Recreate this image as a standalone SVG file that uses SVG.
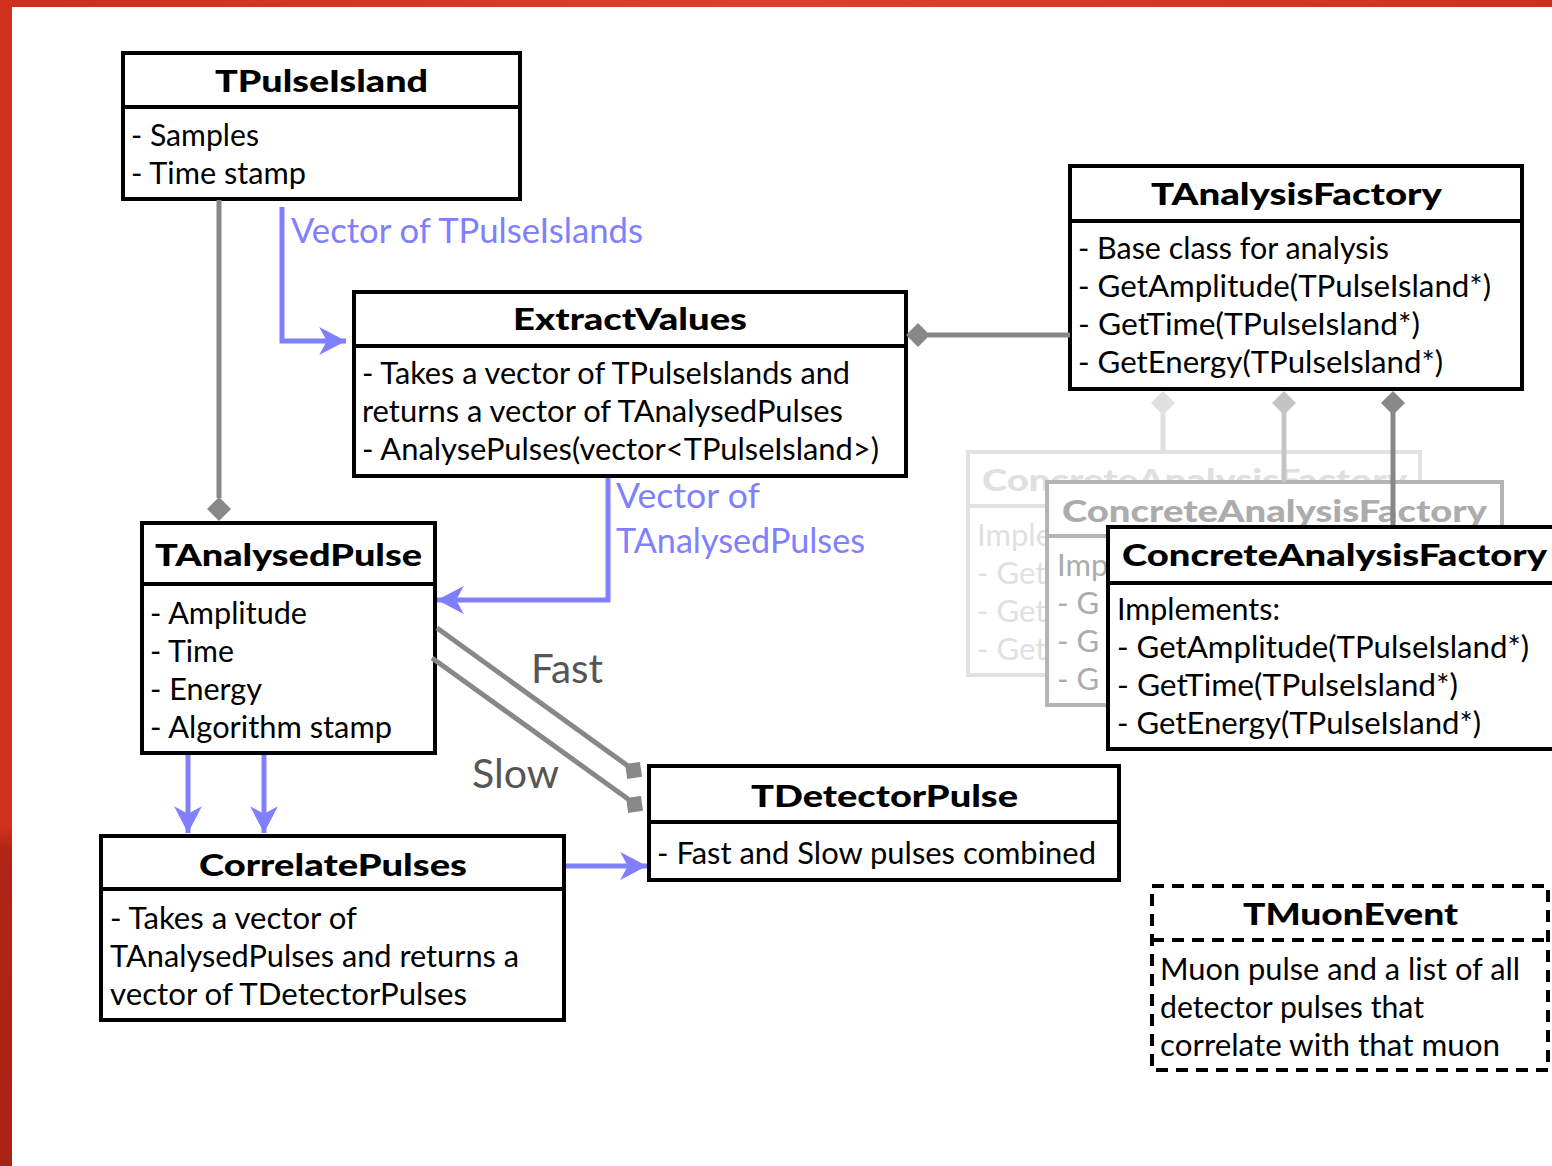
<svg xmlns="http://www.w3.org/2000/svg" width="1552" height="1166" viewBox="0 0 1552 1166">
<defs>
<linearGradient id="topband" x1="0" y1="0" x2="1" y2="0">
<stop offset="0" stop-color="#cf2d1b"/><stop offset="0.5" stop-color="#e0402a"/><stop offset="1" stop-color="#d02f1a"/>
</linearGradient>
<linearGradient id="leftband" x1="0" y1="0" x2="0" y2="1">
<stop offset="0" stop-color="#d2301c"/><stop offset="0.71" stop-color="#d0301c"/><stop offset="0.73" stop-color="#b12416"/><stop offset="1" stop-color="#aa2214"/>
</linearGradient>
<marker id="arr" markerUnits="userSpaceOnUse" markerWidth="30" markerHeight="30" viewBox="-26 -14 28 28" refX="0" refY="0" orient="auto">
<path d="M0,0 L-25,-13 L-18,0 L-25,13 Z" fill="#8080ff"/>
</marker>
<style>
.box{fill:#fff;stroke:#000;stroke-width:4}
.sep{stroke:#000;stroke-width:4}
.t{font-family:Lato,"Open Sans",sans-serif;font-size:31px;font-weight:900;fill:#000}
.b{font-family:Lato,"Open Sans",sans-serif;font-size:31px;fill:#000}
.blue{fill:none;stroke:#8080ff;stroke-width:5}
.bl{font-family:Lato,"Open Sans",sans-serif;font-size:34px;fill:#8080ff}
.gray{fill:none;stroke:#888;stroke-width:5}
.gl{font-family:Lato,"Open Sans",sans-serif;font-size:40px;fill:#555}
.c1{fill:#fff;stroke:#e2e2e2;stroke-width:4}
.c1t{fill:#e0e0e0}
.c2{fill:#fff;stroke:#b4b4b4;stroke-width:4}
.c2t{fill:#acacac}
.dash{fill:#fff;stroke:#000;stroke-width:4;stroke-dasharray:12 8}
</style>
</defs>
<rect x="0" y="0" width="1552" height="1166" fill="#fff"/>
<rect x="0" y="0" width="1552" height="7" fill="url(#topband)"/>
<rect x="0" y="0" width="12" height="1166" fill="url(#leftband)"/>

<g id="TPulseIsland">
<rect class="box" x="123" y="53" width="397" height="146"/>
<line class="sep" x1="123" y1="107" x2="520" y2="107"/>
<text class="t" x="215" y="92" textLength="213" lengthAdjust="spacingAndGlyphs">TPulseIsland</text>
<text class="b" x="131" y="146" textLength="128" lengthAdjust="spacingAndGlyphs">- Samples</text>
<text class="b" x="131" y="184" textLength="175" lengthAdjust="spacingAndGlyphs">- Time stamp</text>
</g>

<g id="TAnalysisFactory">
<rect class="box" x="1070" y="166" width="452" height="223"/>
<line class="sep" x1="1070" y1="221" x2="1522" y2="221"/>
<text class="t" x="1151" y="205" textLength="291" lengthAdjust="spacingAndGlyphs">TAnalysisFactory</text>
<text class="b" x="1078" y="259" textLength="311" lengthAdjust="spacingAndGlyphs">- Base class for analysis</text>
<text class="b" x="1078" y="297" textLength="413" lengthAdjust="spacingAndGlyphs">- GetAmplitude(TPulseIsland*)</text>
<text class="b" x="1078" y="335" textLength="342" lengthAdjust="spacingAndGlyphs">- GetTime(TPulseIsland*)</text>
<text class="b" x="1078" y="373" textLength="365" lengthAdjust="spacingAndGlyphs">- GetEnergy(TPulseIsland*)</text>
</g>

<g id="ExtractValues">
<rect class="box" x="354" y="292" width="552" height="184"/>
<line class="sep" x1="354" y1="346" x2="906" y2="346"/>
<text class="t" x="513" y="330" textLength="234" lengthAdjust="spacingAndGlyphs">ExtractValues</text>
<text class="b" x="362" y="384" textLength="488" lengthAdjust="spacingAndGlyphs">- Takes a vector of TPulseIslands and</text>
<text class="b" x="362" y="422" textLength="481" lengthAdjust="spacingAndGlyphs">returns a vector of TAnalysedPulses</text>
<text class="b" x="362" y="460" textLength="517" lengthAdjust="spacingAndGlyphs">- AnalysePulses(vector&lt;TPulseIsland&gt;)</text>
</g>

<g id="ConcreteAnalysisFactory1">
<rect class="c1" x="968" y="452" width="452" height="223"/>
<line stroke="#e2e2e2" stroke-width="4" x1="968" y1="506" x2="1420" y2="506"/>
<text class="t c1t" x="982" y="491" textLength="425" lengthAdjust="spacingAndGlyphs">ConcreteAnalysisFactory</text>
<text class="b c1t" x="977" y="546">Imple</text>
<text class="b c1t" x="977" y="584">- Get</text>
<text class="b c1t" x="977" y="622">- Get</text>
<text class="b c1t" x="977" y="660">- Get</text>
</g>

<g id="ConcreteAnalysisFactory2">
<rect class="c2" x="1047" y="482" width="455" height="223"/>
<line stroke="#b4b4b4" stroke-width="4" x1="1047" y1="536" x2="1502" y2="536"/>
<text class="t c2t" x="1062" y="522" textLength="425" lengthAdjust="spacingAndGlyphs">ConcreteAnalysisFactory</text>
<text class="b c2t" x="1057" y="576">Imp</text>
<text class="b c2t" x="1057" y="614">- G</text>
<text class="b c2t" x="1057" y="652">- G</text>
<text class="b c2t" x="1057" y="690">- G</text>
</g>

<g id="connectors">
<line x1="1284" y1="412" x2="1284" y2="482" stroke="#c4c4c4" stroke-width="5"/>
<line class="gray" x1="1393" y1="412" x2="1393" y2="527"/>
</g>

<g id="ConcreteAnalysisFactory3">
<rect class="box" x="1108" y="527" width="460" height="222"/>
<line class="sep" x1="1108" y1="583" x2="1568" y2="583"/>
<text class="t" x="1122" y="566" textLength="425" lengthAdjust="spacingAndGlyphs">ConcreteAnalysisFactory</text>
<text class="b" x="1117" y="620" textLength="163" lengthAdjust="spacingAndGlyphs">Implements:</text>
<text class="b" x="1117" y="658" textLength="412" lengthAdjust="spacingAndGlyphs">- GetAmplitude(TPulseIsland*)</text>
<text class="b" x="1117" y="696" textLength="341" lengthAdjust="spacingAndGlyphs">- GetTime(TPulseIsland*)</text>
<text class="b" x="1117" y="734" textLength="364" lengthAdjust="spacingAndGlyphs">- GetEnergy(TPulseIsland*)</text>
</g>

<g id="TAnalysedPulse">
<rect class="box" x="142" y="523" width="293" height="230"/>
<line class="sep" x1="142" y1="584" x2="435" y2="584"/>
<text class="t" x="155" y="566" textLength="267" lengthAdjust="spacingAndGlyphs">TAnalysedPulse</text>
<text class="b" x="150" y="624" textLength="157" lengthAdjust="spacingAndGlyphs">- Amplitude</text>
<text class="b" x="150" y="662" textLength="84" lengthAdjust="spacingAndGlyphs">- Time</text>
<text class="b" x="150" y="700" textLength="112" lengthAdjust="spacingAndGlyphs">- Energy</text>
<text class="b" x="150" y="738" textLength="242" lengthAdjust="spacingAndGlyphs">- Algorithm stamp</text>
</g>

<g id="CorrelatePulses">
<rect class="box" x="101" y="836" width="463" height="184"/>
<line class="sep" x1="101" y1="889" x2="564" y2="889"/>
<text class="t" x="199" y="876" textLength="268" lengthAdjust="spacingAndGlyphs">CorrelatePulses</text>
<text class="b" x="110" y="929" textLength="247" lengthAdjust="spacingAndGlyphs">- Takes a vector of</text>
<text class="b" x="110" y="967" textLength="409" lengthAdjust="spacingAndGlyphs">TAnalysedPulses and returns a</text>
<text class="b" x="110" y="1005" textLength="357" lengthAdjust="spacingAndGlyphs">vector of TDetectorPulses</text>
</g>

<g id="TDetectorPulse">
<rect class="box" x="649" y="766" width="470" height="114"/>
<line class="sep" x1="649" y1="822" x2="1119" y2="822"/>
<text class="t" x="751" y="807" textLength="267" lengthAdjust="spacingAndGlyphs">TDetectorPulse</text>
<text class="b" x="657" y="864" textLength="439" lengthAdjust="spacingAndGlyphs">- Fast and Slow pulses combined</text>
</g>

<g id="TMuonEvent">
<rect class="dash" x="1152" y="886" width="396" height="184"/>
<line class="dash" x1="1152" y1="940" x2="1548" y2="940"/>
<text class="t" x="1243" y="925" textLength="215" lengthAdjust="spacingAndGlyphs">TMuonEvent</text>
<text class="b" x="1160" y="980" textLength="360" lengthAdjust="spacingAndGlyphs">Muon pulse and a list of all</text>
<text class="b" x="1160" y="1018" textLength="264" lengthAdjust="spacingAndGlyphs">detector pulses that</text>
<text class="b" x="1160" y="1056" textLength="340" lengthAdjust="spacingAndGlyphs">correlate with that muon</text>
</g>

<g id="connectors-main">
<line class="gray" x1="219" y1="200" x2="219" y2="498"/>
<path d="M219,497 L231,509 L219,521 L207,509 Z" fill="#888"/>
<line class="gray" x1="928" y1="335" x2="1070" y2="335"/>
<path d="M906,335 L918,323 L930,335 L918,347 Z" fill="#888"/>
<line x1="1163" y1="412" x2="1163" y2="452" stroke="#e0e0e0" stroke-width="5"/>
<path d="M1163,391 L1175,403 L1163,415 L1151,403 Z" fill="#e0e0e0"/>
<path d="M1284,391 L1296,403 L1284,415 L1272,403 Z" fill="#c4c4c4"/>
<path d="M1393,391 L1405,403 L1393,415 L1381,403 Z" fill="#888"/>
<path class="blue" d="M282,207 V341 H346" marker-end="url(#arr)"/>
<text class="bl" x="291" y="243" textLength="352" lengthAdjust="spacingAndGlyphs">Vector of TPulseIslands</text>
<path class="blue" d="M608,478 V600 H437" marker-end="url(#arr)"/>
<text class="bl" x="616" y="508" textLength="144" lengthAdjust="spacingAndGlyphs">Vector of</text>
<text class="bl" x="616" y="553" textLength="249" lengthAdjust="spacingAndGlyphs">TAnalysedPulses</text>
<path class="blue" d="M188,755 V833" marker-end="url(#arr)"/>
<path class="blue" d="M264,755 V833" marker-end="url(#arr)"/>
<path class="blue" d="M566,866 H647" marker-end="url(#arr)"/>
<line class="gray" x1="437" y1="628" x2="628" y2="766"/>
<rect x="626" y="763" width="15" height="15" fill="#888" transform="rotate(-8 633 770)"/>
<line class="gray" x1="432" y1="658" x2="628" y2="799"/>
<rect x="627" y="797" width="15" height="15" fill="#888" transform="rotate(-8 634 804)"/>
<text class="gl" x="531" y="683" textLength="72" lengthAdjust="spacingAndGlyphs">Fast</text>
<text class="gl" x="472" y="788" textLength="87" lengthAdjust="spacingAndGlyphs">Slow</text>
</g>
</svg>
